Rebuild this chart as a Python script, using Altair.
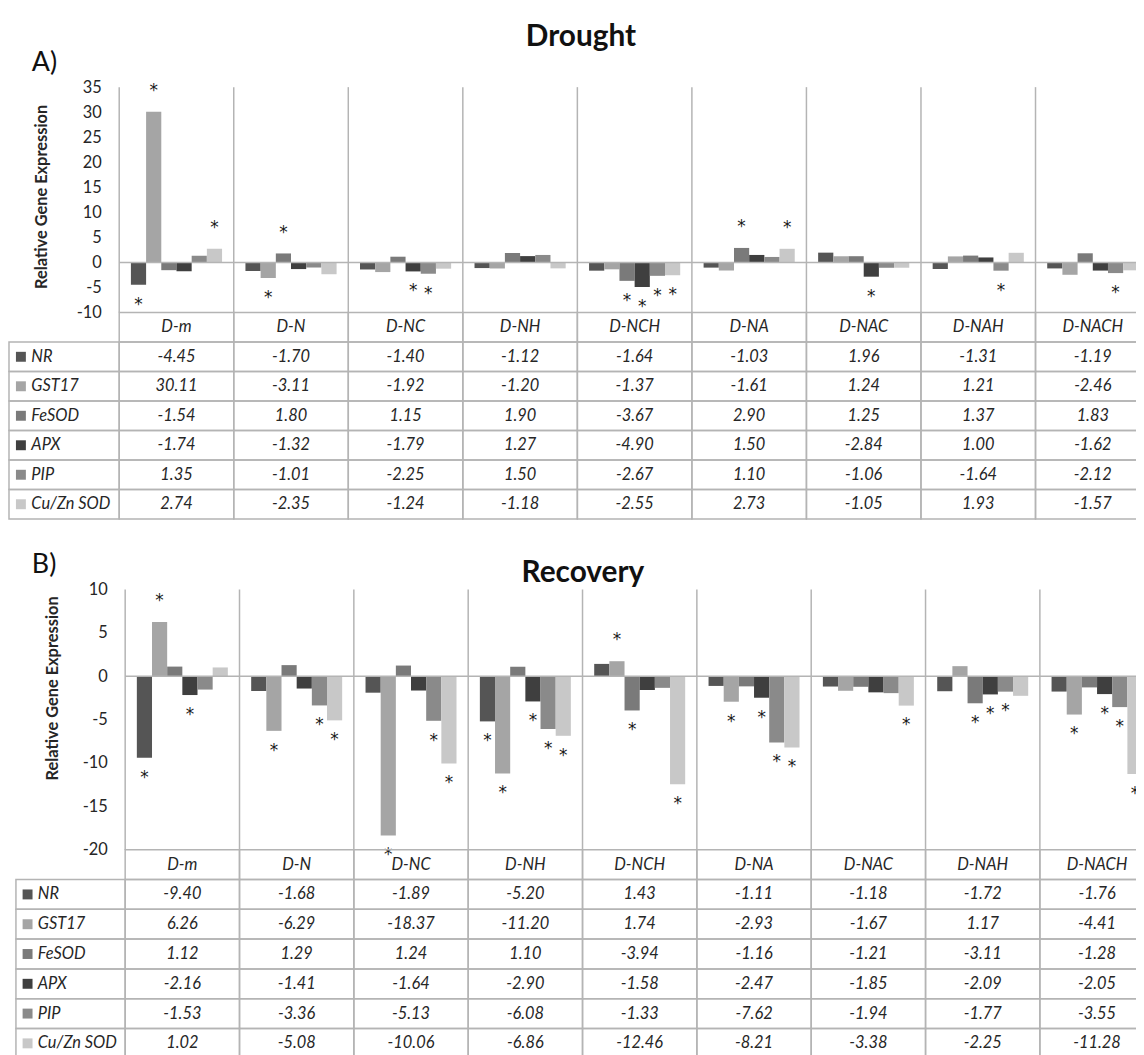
import altair as alt
import pandas as pd

cats = ["D-m", "D-N", "D-NC", "D-NH", "D-NCH", "D-NA", "D-NAC", "D-NAH", "D-NACH"]
genes = ["NR", "GST17", "FeSOD", "APX", "PIP", "Cu/Zn SOD"]

drought_NR = [-4.45, -1.70, -1.40, -1.12, -1.64, -1.03, 1.96, -1.31, -1.19]
drought_GST17 = [30.11, -3.11, -1.92, -1.20, -1.37, -1.61, 1.24, 1.21, -2.46]
drought_FeSOD = [-1.54, 1.80, 1.15, 1.90, -3.67, 2.90, 1.25, 1.37, 1.83]
drought_APX = [-1.74, -1.32, -1.79, 1.27, -4.90, 1.50, -2.84, 1.00, -1.62]
drought_PIP = [1.35, -1.01, -2.25, 1.50, -2.67, 1.10, -1.06, -1.64, -2.12]
drought_CuZn = [2.74, -2.35, -1.24, -1.18, -2.55, 2.73, -1.05, 1.93, -1.57]

recovery_NR = [-9.40, -1.68, -1.89, -5.20, 1.43, -1.11, -1.18, -1.72, -1.76]
recovery_GST17 = [6.26, -6.29, -18.37, -11.20, 1.74, -2.93, -1.67, 1.17, -4.41]
recovery_FeSOD = [1.12, 1.29, 1.24, 1.10, -3.94, -1.16, -1.21, -3.11, -1.28]
recovery_APX = [-2.16, -1.41, -1.64, -2.90, -1.58, -2.47, -1.85, -2.09, -2.05]
recovery_PIP = [-1.53, -3.36, -5.13, -6.08, -1.33, -7.62, -1.94, -1.77, -3.55]
recovery_CuZn = [1.02, -5.08, -10.06, -6.86, -12.46, -8.21, -3.38, -2.25, -11.28]

# significance asterisks (categories marked with * per gene)
drought_sig = {
    "NR": ["D-m"],
    "GST17": ["D-m", "D-N"],
    "FeSOD": ["D-N", "D-NCH", "D-NA"],
    "APX": ["D-NC", "D-NCH", "D-NAC"],
    "PIP": ["D-NC", "D-NCH", "D-NAH", "D-NACH"],
    "Cu/Zn SOD": ["D-m", "D-NCH", "D-NA"],
}
recovery_sig = {
    "NR": ["D-m", "D-NH"],
    "GST17": ["D-m", "D-N", "D-NC", "D-NH", "D-NCH", "D-NA", "D-NACH"],
    "FeSOD": ["D-NCH", "D-NAH"],
    "APX": ["D-m", "D-NH", "D-NA", "D-NAH", "D-NACH"],
    "PIP": ["D-N", "D-NC", "D-NH", "D-NA", "D-NAH", "D-NACH"],
    "Cu/Zn SOD": ["D-N", "D-NC", "D-NH", "D-NCH", "D-NA", "D-NAC", "D-NACH"],
}

drought_vals = dict(zip(genes, [drought_NR, drought_GST17, drought_FeSOD, drought_APX, drought_PIP, drought_CuZn]))
recovery_vals = dict(zip(genes, [recovery_NR, recovery_GST17, recovery_FeSOD, recovery_APX, recovery_PIP, recovery_CuZn]))

gene_colors = ["#555555", "#a5a5a5", "#7a7a7a", "#3f3f3f", "#8a8a8a", "#c8c8c8"]

FONT = "Lato"
GRID = "#b4b4b4"
TXT = "#262626"


def long_df(vals, sig):
    rows = []
    for g in genes:
        for i, c in enumerate(cats):
            v = vals[g][i]
            rows.append(dict(cat=c, gene=g, value=v, label=f"{v:.2f}", star=c in sig[g]))
    return pd.DataFrame(rows)


def panel(vals, sig, cfg):
    df = long_df(vals, sig)
    rows = ["hdr"] + genes
    xs = alt.Scale(type="band", domain=cats,
                   range=[cfg["x0"], cfg["x0"] + 9 * cfg["step"]],
                   paddingInner=0, paddingOuter=0)
    ls = alt.Scale(type="band", domain=[""], range=[cfg["lx0"], cfg["x0"]],
                   paddingInner=0, paddingOuter=0)
    ys = alt.Scale(domain=cfg["ydom"], range=[cfg["ybot"], cfg["ytop"]], nice=False)
    ts = alt.Scale(type="band", domain=rows, range=[cfg["ybot"], cfg["ybot"] + 7 * cfg["row"]],
                   paddingInner=0, paddingOuter=0)
    offs = alt.Scale(type="band", domain=genes, paddingInner=0, paddingOuter=0.77)
    col = alt.Color("gene:N", scale=alt.Scale(domain=genes, range=gene_colors), legend=None)

    cat_df = pd.DataFrame({"cat": cats})
    X = lambda bp=0.5: alt.X("cat:N", scale=xs, axis=None, bandPosition=bp)
    XL = alt.X("cat:N", scale=ls, axis=None)
    XO = alt.XOffset("gene:N", scale=offs, sort=genes)
    YT = lambda f: alt.Y(f, scale=ts, axis=None, sort=rows)

    vlines = alt.Chart(cat_df).mark_rule(color=GRID, strokeWidth=1.5).encode(
        x=X(0),
        y=alt.YDatum(cfg["ydom"][1], scale=ys, axis=None),
        y2=alt.Y2Datum(cfg["ydom"][0]),
    )

    yaxis = alt.Axis(
        orient="left", offset=-cfg["x0"], values=cfg["yticks"],
        labelExpr="datum.value < 0 ? '-' + abs(datum.value) : '' + datum.value",
        ticks=False, tickSize=0, domain=False, grid=False,
        labelFont=FONT, labelFontSize=16.5, labelColor=TXT, labelPadding=18,
        title="Relative Gene Expression", titleFont=FONT, titleFontSize=16.5,
        titleFontWeight="bold", titleColor=TXT, titleX=cfg["titleX"], titleY=cfg["titleY"],
        titleBaseline="middle", titleAlign="center",
    )
    bars = alt.Chart(df).mark_bar().encode(
        x=X(), xOffset=XO,
        y=alt.Y("value:Q", scale=ys, axis=yaxis),
        y2=alt.Y2Datum(0),
        color=col,
    )

    zero = alt.Chart(cat_df).mark_rect(filled=False, stroke=GRID, strokeWidth=1.5).encode(
        x=X(),
        y=alt.YDatum(0, scale=ys, axis=None),
        y2=alt.Y2Datum(0),
    )

    star_up = alt.Chart(df).transform_filter("datum.star && datum.value >= 0").mark_text(
        text="*", dy=-16, baseline="alphabetic", font="DejaVu Sans", fontSize=17, color="#1a1a1a"
    ).encode(
        x=X(), xOffset=XO,
        y=alt.Y("value:Q", scale=ys, axis=None),
    )
    star_dn = alt.Chart(df).transform_filter("datum.star && datum.value < 0").mark_text(
        text="*", dy=25, baseline="alphabetic", font="DejaVu Sans", fontSize=17, color="#1a1a1a"
    ).encode(
        x=X(), xOffset=XO,
        y=alt.Y("value:Q", scale=ys, axis=None),
    )

    cell_rows = [dict(cat=c, row=r) for r in rows for c in cats]
    cells = alt.Chart(pd.DataFrame(cell_rows)).mark_rect(filled=False, stroke=GRID, strokeWidth=1.5).encode(
        x=X(), y=YT("row:N"),
    )
    leg_df = pd.DataFrame({"cat": "", "gene": genes})
    leg_cells = alt.Chart(leg_df).mark_rect(filled=False, stroke=GRID, strokeWidth=1.5).encode(
        x=XL, y=YT("gene:N"),
    )

    hdr = alt.Chart(pd.DataFrame({"cat": cats, "row": "hdr"})).mark_text(
        font=FONT, fontSize=16.5, fontStyle="italic", color=TXT, baseline="middle"
    ).encode(x=X(), y=YT("row:N"), text="cat:N")

    vals_txt = alt.Chart(df).mark_text(
        font=FONT, fontSize=16.5, fontStyle="italic", color=TXT, baseline="middle"
    ).encode(x=X(), y=YT("gene:N"), text="label:N")

    sw_scale = alt.Scale(type="band", domain=[""], range=[cfg["swx"] - 5, cfg["swx"] + 5],
                         paddingInner=0, paddingOuter=0)
    swatch = alt.Chart(leg_df).mark_point(shape="square", filled=True, size=100, opacity=1).encode(
        x=alt.X("cat:N", scale=sw_scale, axis=None),
        y=YT("gene:N"), color=col,
    )
    names = alt.Chart(leg_df).mark_text(
        font=FONT, fontSize=16.5, fontStyle="italic", color=TXT, align="left", baseline="middle",
        dx=-33,
    ).encode(x=XL, y=YT("gene:N"), text="gene:N")

    one = pd.DataFrame({"t": [cfg["title"]]})
    title = alt.Chart(one).mark_text(
        font=FONT, fontSize=30, fontWeight="bold", color="#111111", align="center", baseline="alphabetic"
    ).encode(x=alt.value(cfg["tx"]), y=alt.value(cfg["ty"]), text="t:N")
    lab = alt.Chart(pd.DataFrame({"t": [cfg["label"]]})).mark_text(
        font=FONT, fontSize=27, color="#111111", align="left", baseline="alphabetic"
    ).encode(x=alt.value(cfg["lx"]), y=alt.value(cfg["ly"]), text="t:N")

    return [vlines, bars, zero, star_up, star_dn, cells, leg_cells, hdr, vals_txt,
            swatch, names, title, lab]


cfgA = dict(x0=112, lx0=1, step=115.35, ydom=[-10, 35], ybot=303, ytop=76, row=29.7,
            yticks=list(range(-10, 36, 5)), titleX=-78, titleY=186, swx=13,
            title="Drought", tx=577, ty=35, label="A)", lx=24, ly=60)
cfgB = dict(x0=118, lx0=8, step=115.15, ydom=[-20, 10], ybot=844, ytop=582, row=30,
            yticks=list(range(-20, 11, 5)), titleX=-73, titleY=681, swx=19.7,
            title="Recovery", tx=579, ty=574, label="B)", lx=24, ly=565)

layers = panel(drought_vals, drought_sig, cfgA) + panel(recovery_vals, recovery_sig, cfgB)

chart = alt.layer(*layers).resolve_scale(
    x="independent", y="independent", xOffset="independent"
).properties(
    width=1136, height=1047, autosize=alt.AutoSizeParams(type="none"), padding=0,
    background="white",
).configure_view(strokeWidth=0)

chart.save("out.html", embed_options={"renderer": "svg", "actions": False})
